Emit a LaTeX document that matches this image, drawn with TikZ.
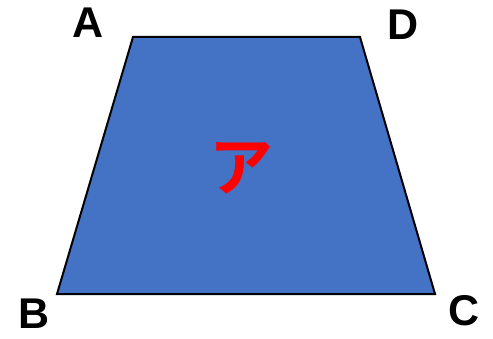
\documentclass[tikz,border=0pt]{standalone}
\usepackage{fontspec}
\setmainfont{Liberation Sans}
\newfontfamily\cjk{Noto Sans CJK JP Bold}
\definecolor{shapeblue}{HTML}{4472C4}
\tikzset{
  vlabel/.style={font=\fontsize{43}{43}\selectfont\bfseries, text=black, inner sep=0pt},
  kana/.style={font=\cjk\fontsize{64}{64}\selectfont, text=red, inner sep=0pt}
}
\begin{document}
\begin{tikzpicture}[x=1pt,y=1pt]
\useasboundingbox (0,0) rectangle (493,338);
\coordinate (pA) at (133,301);
\coordinate (pD) at (360,301);
\coordinate (pC) at (435,44);
\coordinate (pB) at (57,44);
\draw[line width=2pt, fill=shapeblue] (pA) -- (pD) -- (pC) -- (pB) -- cycle;
\node[vlabel] (lA) at (88,315) {A};
\node[vlabel] (lD) at (403,313) {D};
\node[vlabel] (lB) at (34,24) {B};
\node[vlabel] (lC) at (464,27) {C};
\node[kana] (k) at (241,170) {ア};
\end{tikzpicture}
\end{document}
